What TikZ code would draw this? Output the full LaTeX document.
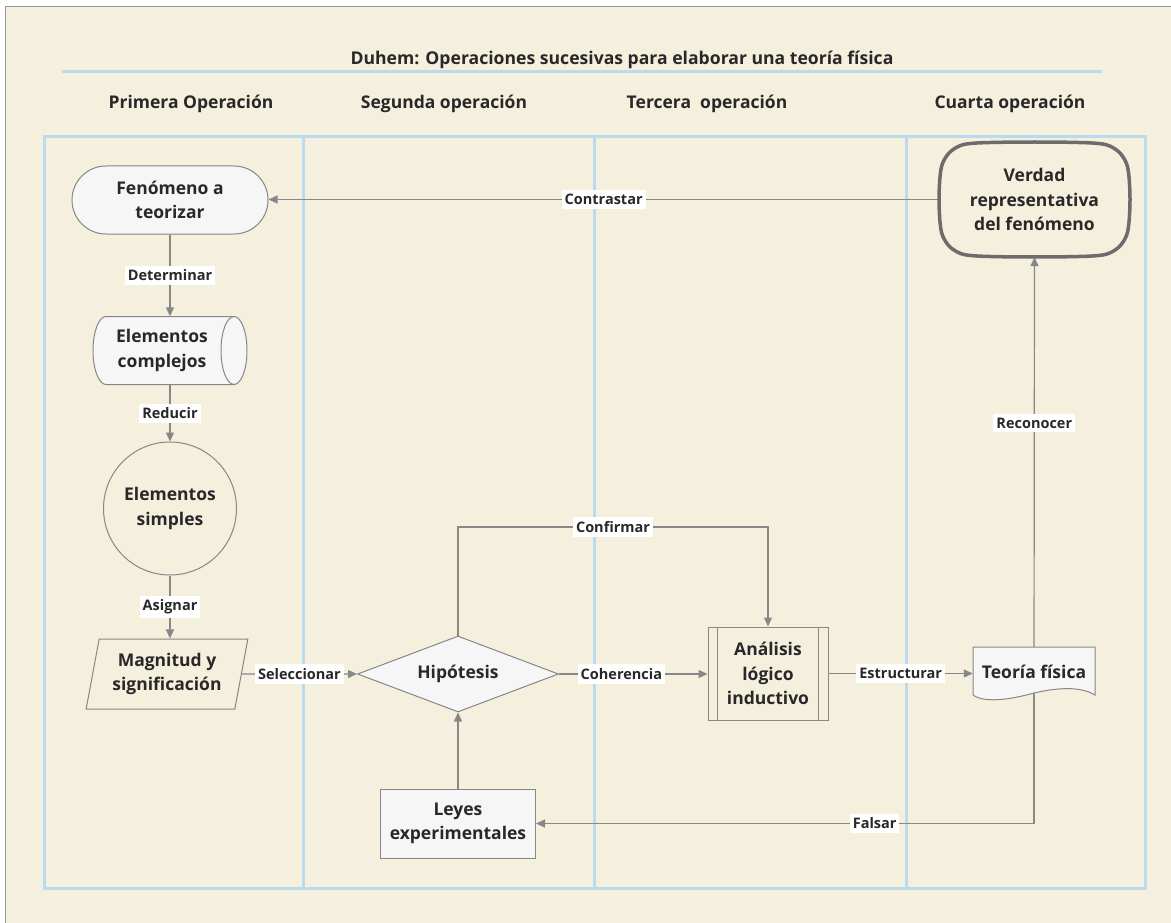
\documentclass[tikz,border=0pt]{standalone}
\usepackage{fontspec}
\setmainfont{Open Sans}
\usetikzlibrary{arrows.meta,shapes.geometric}
\pgfdeclarelayer{lanes}
\pgfdeclarelayer{edges}
\pgfdeclarelayer{shapes}
\pgfsetlayers{lanes,edges,shapes,main}

\definecolor{paper}{RGB}{245,239,222}
\definecolor{laneblue}{RGB}{186,218,240}
\definecolor{ink}{RGB}{40,40,40}
\definecolor{edgegray}{RGB}{135,135,135}
\definecolor{boxfill}{RGB}{246,246,246}
\definecolor{framegray}{RGB}{150,150,150}
\definecolor{thickgray}{RGB}{108,108,108}

\begin{document}
\begin{tikzpicture}[x=1pt,y=-1pt,
  lane/.style={draw=laneblue, line width=3pt},
  titletxt/.style={font=\bfseries\fontsize{17.6}{21}\selectfont, text=ink},
  headtxt/.style={font=\bfseries\fontsize{17.5}{21}\selectfont, text=ink},
  txt/.style={font=\bfseries\fontsize{17.5}{24.5}\selectfont, text=ink, align=center},
  lbl/.style={fill=white, font=\bfseries\fontsize{14.5}{17}\selectfont, text=ink, inner xsep=3pt, inner ysep=4pt},
  arr/.style={draw=edgegray, line width=1.2pt, -{Triangle[length=9pt,width=8pt]}},
  outline/.style={draw=edgegray, line width=1pt},
  filled/.style={outline, fill=boxfill},
  ghost/.style={draw=none, inner sep=0pt}
]
\useasboundingbox (0,0) rectangle (1171,923);

% paper, lanes and title rule
\begin{pgfonlayer}{lanes}
  \fill[white] (0,0) rectangle (1171,923);
  \fill[paper] (5,7) rectangle (1171,923);
  \draw[framegray, line width=1pt] (5,923) -- (5,7) -- (1171,7);
  \draw[lane] (62,72) -- (1102,72);
  \draw[lane] (44,137) rectangle (1145,888);
  \draw[lane] (303.5,137) -- (303.5,888);
  \draw[lane] (594,137) -- (594,888);
  \draw[lane] (906,137) -- (906,888);
\end{pgfonlayer}

% headings
\node[titletxt] (title) at (622,60) {Duhem: Operaciones sucesivas para elaborar una teoría física};
\node[headtxt] (h1) at (191,104) {Primera Operación};
\node[headtxt] (h2) at (444,104) {Segunda operación};
\node[headtxt] (h3) at (707,104) {Tercera\ \ operación};
\node[headtxt] (h4) at (1010,104) {Cuarta operación};

% nodes
\node[txt, filled, rectangle, rounded corners=34pt, minimum width=196pt, minimum height=68pt] (fen) at (170,200) {Fenómeno a\\teorizar};
\node[ghost, minimum width=154pt, minimum height=68pt,
      label={[txt, xshift=-8pt]center:Elementos\\complejos}] (comp) at (170,350.5) {};
\node[txt, outline, circle, minimum size=133pt, inner sep=0pt] (simp) at (170,508.5) {Elementos\\simples};
\node[txt, outline, trapezium, trapezium left angle=76, trapezium right angle=104,
      trapezium stretches=true, minimum width=162pt, minimum height=70pt, inner sep=0pt] (mag) at (167,674) {Magnitud y\\significación};
\node[txt, filled, diamond, aspect=2.64, minimum width=201pt, minimum height=76pt, inner sep=0pt] (hip) at (458,674) {Hipótesis};
\node[txt, filled, rectangle, minimum width=155pt, minimum height=69pt] (ley) at (458,823.5) {Leyes\\experimentales};
\node[txt, outline, rectangle, minimum width=120pt, minimum height=93pt, inner sep=0pt] (ana) at (768,673.5) {Análisis\\lógico\\inductivo};
\draw[outline] ([xshift=10pt]ana.north west) -- ([xshift=10pt]ana.south west);
\draw[outline] ([xshift=-10pt]ana.north east) -- ([xshift=-10pt]ana.south east);
\node[txt, ghost, minimum width=122pt, minimum height=50pt] (teo) at (1034,672) {Teoría física};
\node[txt, ghost, minimum width=191pt, minimum height=115pt] (verd) at (1034.5,199.5) {Verdad\\representativa\\del fenómeno};

% drawn outlines of the custom shapes
\begin{pgfonlayer}{shapes}
  % horizontal cylinder
  \draw[filled, shift={(comp.center)}]
    (-64,-34) -- (64,-34) .. controls (71.2,-34) and (77,-18.8) .. (77,0)
    .. controls (77,18.8) and (71.2,34) .. (64,34) -- (-64,34)
    .. controls (-71.2,34) and (-77,18.8) .. (-77,0)
    .. controls (-77,-18.8) and (-71.2,-34) .. (-64,-34) -- cycle;
  \draw[outline, shift={(comp.center)}]
    (64,-34) .. controls (56.8,-34) and (51,-18.8) .. (51,0)
    .. controls (51,18.8) and (56.8,34) .. (64,34);
  % document sheet
  \draw[filled, shift={(teo.center)}]
    (-61,-25) -- (61,-25) -- (61,23)
    .. controls (50,16) and (30,14) .. (0,21)
    .. controls (-25,28) and (-50,31) .. (-61,23) -- cycle;
  % rounded squircle with slightly bowed sides
  \draw[draw=thickgray, line width=3.5pt, shift={(verd.center)}]
    plot[smooth cycle, tension=0.55] coordinates {
      (0,57.5) (35,57.2) (60.5,56.3) (74,54) (85,47) (92,36) (94.5,22.5) (95.5,0)
      (94.5,-22.5) (92,-36) (85,-47) (74,-54) (60.5,-56.3) (35,-57.2) (0,-57.5)
      (-35,-57.2) (-60.5,-56.3) (-74,-54) (-85,-47) (-92,-36) (-94.5,-22.5) (-95.5,0)
      (-94.5,22.5) (-92,36) (-85,47) (-74,54) (-60.5,56.3) (-35,57.2)};
\end{pgfonlayer}

% connectors
\coordinate (cf) at (458,527);
\begin{pgfonlayer}{edges}
  \draw[arr] (verd.west) -- node[lbl]{Contrastar} (verd.west -| fen.east);
  \draw[arr] (fen.south) -- node[lbl]{Determinar} (comp.north);
  \draw[arr] (comp.south) -- node[lbl]{Reducir} (simp.north);
  \draw[arr] (simp.south) -- node[lbl]{Asignar} (simp.south |- mag.north);
  \draw[arr] (mag.east) -- node[lbl]{Seleccionar} (hip.west);
  \draw[arr] (hip.north) -- (cf) -- node[lbl]{Confirmar} (cf -| ana.north) -- (ana.north);
  \draw[arr] (hip.east) -- node[lbl, pos=0.42]{Coherencia} (hip.east -| ana.west);
  \draw[arr] (ana.east) -- node[lbl]{Estructurar} (ana.east -| teo.west);
  \draw[arr] (teo.center) -- node[lbl, pos=0.6]{Reconocer} (verd.south);
  \draw[arr] (teo.center) |- node[lbl, pos=0.66]{Falsar} (ley.east);
  \draw[arr] (ley.north) -- (hip.south);
\end{pgfonlayer}
\end{tikzpicture}
\end{document}
